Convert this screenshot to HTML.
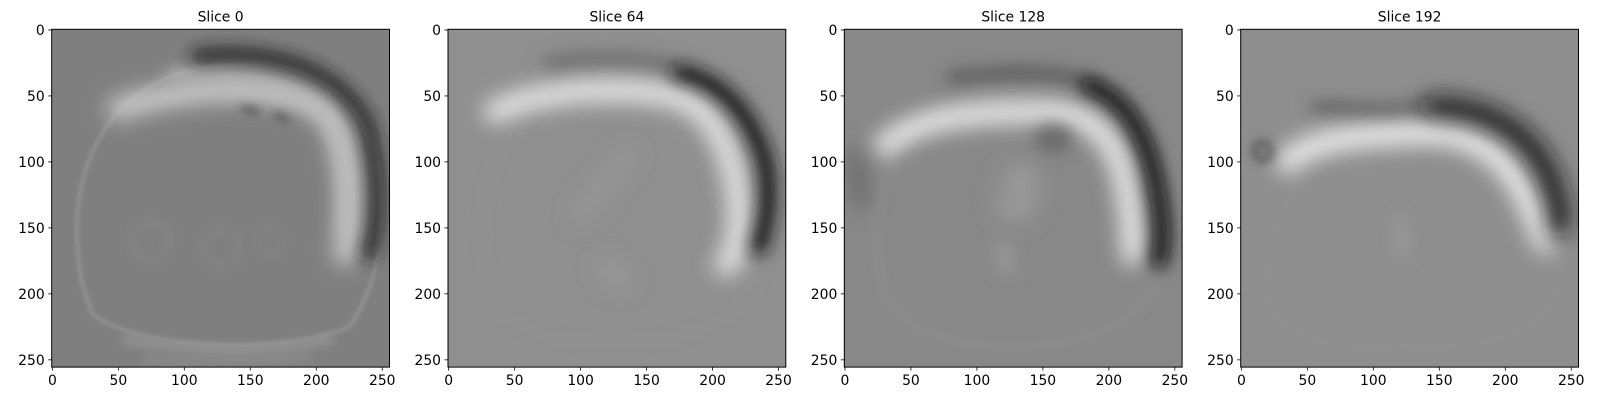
<!DOCTYPE html>
<html><head><meta charset="utf-8"><style>
html,body{margin:0;padding:0;background:#fff;}
svg text{font-family:"DejaVu Sans","Liberation Sans",sans-serif;fill:#000;}
</style></head><body>
<svg id="fig" width="1600" height="400" viewBox="0 0 1600 400" xmlns="http://www.w3.org/2000/svg">
<defs>
<filter id="b8" filterUnits="userSpaceOnUse" x="-50" y="-50" width="360" height="360"><feGaussianBlur stdDeviation="8"/></filter>
<filter id="b6" filterUnits="userSpaceOnUse" x="-50" y="-50" width="360" height="360"><feGaussianBlur stdDeviation="6"/></filter>
<filter id="b3" filterUnits="userSpaceOnUse" x="-50" y="-50" width="360" height="360"><feGaussianBlur stdDeviation="3.5"/></filter>
<filter id="b1" filterUnits="userSpaceOnUse" x="-50" y="-50" width="360" height="360"><feGaussianBlur stdDeviation="1.5"/></filter>
<clipPath id="clipimg"><rect x="-0.5" y="-0.5" width="256" height="256"/></clipPath>
</defs>
<g id="panels"></g>
</svg>
<script>
const titles = ["Slice 0","Slice 64","Slice 128","Slice 192"];
const tickValues = [0,50,100,150,200,250];
const tickLabels = ["0","50","100","150","200","250"];
const bgGrays = ["#7f7f7f","#8f8f8f","#888888","#8e8e8e"];
const panelLefts = [51.7,448,844.3,1240.7];
const axTop = 29.3, axSize = 337.8, domainMin = -0.5, domainMax = 255.5;
const sc = axSize/(domainMax-domainMin);
const NS="http://www.w3.org/2000/svg";
function mk(tag, attrs, parent){const e=document.createElementNS(NS,tag);for(const k in attrs)e.setAttribute(k,attrs[k]);if(parent)parent.appendChild(e);return e;}
const features = [
 [
  ["M22,190 C10,120 30,60 90,35 C150,15 215,25 240,80 C258,130 250,190 225,225 C180,245 70,245 30,215 Z","#929292",3,"b1"],
  ["M50,60 C100,42 170,40 205,60 C225,80 228,130 222,170","#d2d2d2",16,"b8"],
  ["M90,35 C140,30 180,40 205,60 C222,80 225,110 222,150","#bababa",8,"b6"],
  ["M110,20 C165,14 215,28 238,70 C250,110 248,150 240,170","#1e1e1e",10,"b6"],
  ["M55,235 C110,245 170,245 210,235","#9a9a9a",5,"b3"],
  ["M70,250 C120,252 160,252 195,248","#929292",4,"b3"],
  ["M75,160 m-14,0 a14,14 0 1,0 28,0 a14,14 0 1,0 -28,0","#8a8a8a",3,"b3"],
  ["M128,165 m-14,0 a14,14 0 1,0 28,0 a14,14 0 1,0 -28,0","#878787",3,"b3"],
  ["M165,160 m-10,0 a10,10 0 1,0 20,0 a10,10 0 1,0 -20,0","#868686",3,"b3"],
  ["M145,60 L155,62 M170,65 L178,68","#5a5a5a",5,"b3"]
 ],
 [
  ["M30,190 C15,120 40,60 100,45 C170,35 230,70 240,150 C245,210 200,235 128,238 C60,238 30,215 30,190","#929292",3,"b3"],
  ["M35,62 C70,45 130,42 170,50 C200,58 215,90 220,130 C222,160 215,175 210,178","#e6e6e6",17,"b8"],
  ["M75,25 C110,20 145,20 170,28","#606060",7,"b6"],
  ["M175,32 C205,38 228,60 240,100 C245,130 240,150 235,165","#161616",12,"b6"],
  ["M100,140 C115,120 125,110 135,95","#9a9a9a",10,"b8"],
  ["M120,180 L130,190","#9c9c9c",12,"b8"]
 ],
 [
  ["M28,190 C15,130 35,70 90,55 C160,45 230,75 242,150 C248,210 200,240 128,240 C60,240 30,215 28,190","#8f8f8f",3,"b3"],
  ["M30,88 C55,65 100,62 150,62 C185,62 205,80 212,115 C218,140 218,160 218,170","#eeeeee",16,"b8"],
  ["M80,36 C120,32 160,30 185,40","#404040",6,"b6"],
  ["M185,42 C215,52 232,85 238,130 C242,155 240,165 238,175","#0e0e0e",12,"b6"],
  ["M158,82 m-10,0 a10,6 0 1,0 20,0 a10,6 0 1,0 -20,0","#5e5e5e",7,"b6"],
  ["M8,95 L12,130","#666666",12,"b8"],
  ["M125,115 C130,105 140,105 140,120 C140,140 125,145 120,130","#9e9e9e",12,"b8"],
  ["M120,165 L123,180","#9c9c9c",10,"b6"]
 ],
 [
  ["M20,200 C20,120 60,80 128,75 C200,75 240,120 240,190 C240,230 190,240 128,242 C60,242 22,230 20,200","#929292",2,"b3"],
  ["M35,100 C55,80 100,80 135,78 C175,76 200,95 215,125 C222,140 228,150 230,160","#eeeeee",17,"b8"],
  ["M55,58 C90,60 120,62 140,57","#404040",5,"b6"],
  ["M145,58 C185,58 220,75 235,115 C242,135 243,145 240,150","#141414",14,"b8"],
  ["M16,92 m-6,0 a6,7 0 1,0 12,0 a6,7 0 1,0 -12,0","#5e5e5e",5,"b3"],
  ["M120,145 L122,170","#a0a0a0",6,"b6"]
 ]
];
const root = document.getElementById('panels');
titles.forEach((t,i)=>{
  const L = panelLefts[i];
  const g = mk('g',{},root);
  
  
  const img = mk('g',{transform:`translate(${L},${axTop}) scale(${sc}) translate(0.5,0.5)`,'clip-path':'url(#clipimg)'},g);
  
  
  mk('rect',{x:-0.5,y:-0.5,width:256,height:256,fill:bgGrays[i]},img);
  features[i].forEach(f=>{
    const p = mk('path',{d:f[0],fill:'none',stroke:f[1],'stroke-width':f[2],'stroke-linecap':'round',filter:'url(#'+f[3]+')'},img);
    
    
  });
  const fr = mk('rect',{x:L,y:axTop,width:axSize,height:axSize,fill:'none',stroke:'#000','stroke-width':1},g);
  
  
  const tt = mk('text',{x:L+axSize/2,y:axTop-8,'text-anchor':'middle','font-size':'13.9px'},g);
  tt.textContent = t;
  
  
  tickValues.forEach((v,k)=>{
    const px = L + (v-domainMin)*sc;
    const py = axTop + (v-domainMin)*sc;
    mk('line',{x1:px,y1:axTop+axSize,x2:px,y2:axTop+axSize+3.5,stroke:'#000','stroke-width':0.8},g);
    const xl = mk('text',{x:px,y:axTop+axSize+18,'text-anchor':'middle','font-size':'13.9px'},g);
    xl.textContent = tickLabels[k];
    
    
    mk('line',{x1:L,y1:py,x2:L-3.5,y2:py,stroke:'#000','stroke-width':0.8},g);
    const yl = mk('text',{x:L-7,y:py+5,'text-anchor':'end','font-size':'13.9px'},g);
    yl.textContent = tickLabels[k];
    
    
  });
});
</script>
</body></html>
